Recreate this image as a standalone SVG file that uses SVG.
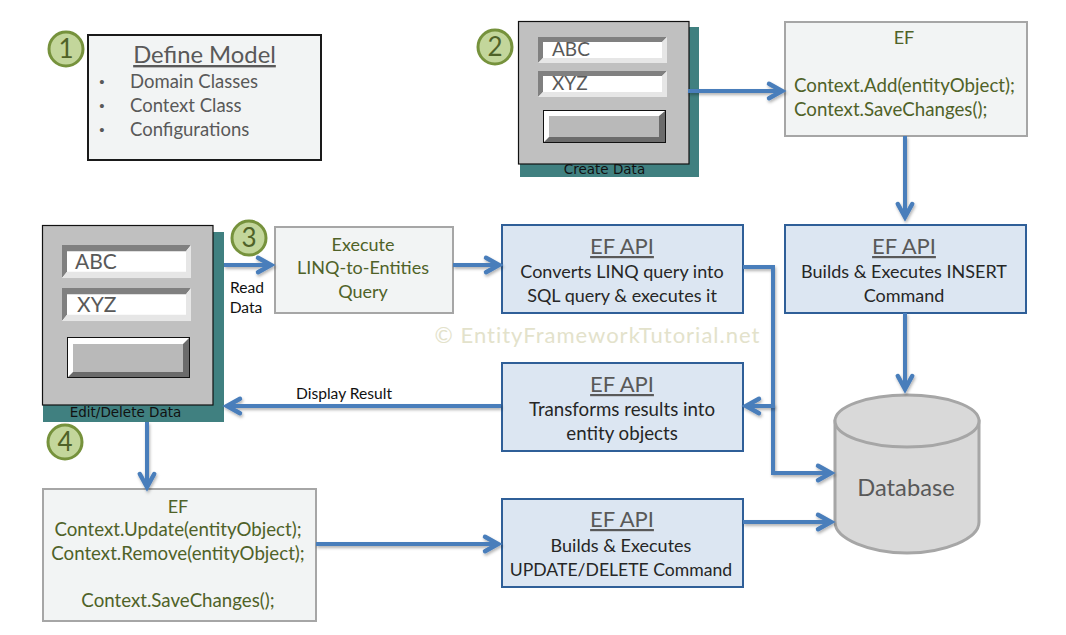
<svg xmlns="http://www.w3.org/2000/svg" width="1066" height="635" viewBox="0 0 1066 635">
<style>
text{font-family:Lato,"Liberation Sans",sans-serif;text-anchor:middle}
.badge circle{fill:#c3d69b;stroke:#76923c;stroke-width:3}
.badge text{font-size:26px;fill:#4f6228}
.gb{fill:#f2f4f4;stroke:#a6a6a6;stroke-width:2}
.bb{fill:#dce6f2;stroke:#2f5f98;stroke-width:2}
.gt{font-size:18px;fill:#4f6228}
.gc{font-size:18.700px;fill:#4f6228}
.h{font-size:22px;fill:#595959;text-decoration:underline}
.bt{font-size:18px;fill:#262626}
.bw{font-size:18.700px;fill:#262626}
.l{font-size:18.500px;fill:#595959;text-anchor:start}
.bu{font-family:"Liberation Sans",sans-serif;font-size:15px;fill:#595959}
.c{fill:none;stroke:#4a7ebb;stroke-width:4;marker-end:url(#a);filter:url(#s)}
.w{font-family:"DejaVu Sans",sans-serif;font-size:13.500px;fill:#111}
.lab{font-size:15.600px;fill:#111}
.teal{fill:#408080}
.win{fill:#c0c0c0;stroke:#111;stroke-width:1.2}
</style>
<defs>
<marker id="a" markerUnits="userSpaceOnUse" markerWidth="24" markerHeight="28" refX="19" refY="14" orient="auto" overflow="visible"><path d="M5 6.800L18 14L5 21.200" fill="none" stroke="#4a7ebb" stroke-width="4.500" stroke-linecap="round" stroke-linejoin="miter"/></marker>
<filter id="s" x="0" y="0" width="1066" height="635" filterUnits="userSpaceOnUse"><feDropShadow dx="1" dy="2" stdDeviation="1.500" flood-color="#000" flood-opacity=".3"/></filter>
<g id="field"><rect width="129" height="26" fill="#fff"/><path d="M0 0H129L124 5H5V21L0 26Z" fill="#808080"/><path d="M129 0V26H0L5 21H124V5Z" fill="#e6e6e6"/></g>
</defs>
<text x="597.500" y="343" style="font-size:22px;fill:#e3e2cb;letter-spacing:1px">© EntityFrameworkTutorial.net</text>

<g id="model">
<rect x="88" y="35" width="233" height="125" fill="#f2f4f4" stroke="#1a1a1a" stroke-width="2"/>
<text x="204.500" y="63" style="font-size:23.800px;fill:#595959;text-decoration:underline">Define Model</text>
<text class="bu" x="102" y="87">•</text><text class="l" x="130" y="88">Domain Classes</text>
<text class="bu" x="102" y="111">•</text><text class="l" x="130" y="112">Context Class</text>
<text class="bu" x="102" y="135">•</text><text class="l" x="130" y="136">Configurations</text>
</g>
<g id="badge1" class="badge"><circle cx="66" cy="49" r="17"/><text x="66" y="58">1</text></g>

<g id="create-window">
<rect class="teal" x="520" y="27" width="179" height="150"/>
<rect class="win" x="518.500" y="21.500" width="170.500" height="142.500"/>
<use href="#field" x="538" y="37"/><use href="#field" x="538" y="71"/>
<text x="552" y="56" style="font-size:19px;fill:#595959;text-anchor:start">ABC</text>
<text x="552" y="90" style="font-size:19px;fill:#595959;text-anchor:start">XYZ</text>
<rect x="543" y="110" width="123" height="33" fill="#111"/><rect x="544" y="111" width="121" height="31" fill="#fff"/><path d="M665 111V142H544L549 137H659V116Z" fill="#6b6b6b"/><rect x="549" y="116" width="110" height="21" fill="#b9b9b9"/>
<text class="w" x="604.500" y="174">Create Data</text>
</g>
<g id="badge2" class="badge"><circle cx="495" cy="47" r="17"/><text x="495" y="56">2</text></g>

<g id="edit-window">
<rect class="teal" x="43" y="232" width="181" height="190"/>
<rect class="win" x="42.500" y="225.500" width="170.500" height="179.500"/>
<use href="#field" transform="translate(62 245) scale(1 1.270)"/><use href="#field" transform="translate(62 288) scale(1 1.270)"/>
<text x="75" y="269" style="font-size:21px;fill:#595959;text-anchor:start">ABC</text>
<text x="77" y="312" style="font-size:21px;fill:#595959;text-anchor:start">XYZ</text>
<rect x="67" y="337" width="123" height="41" fill="#111"/><rect x="68" y="338" width="121" height="39" fill="#fff"/><path d="M189 338V377H68L73 372H183V344Z" fill="#6b6b6b"/><rect x="73" y="344" width="110" height="28" fill="#b9b9b9"/>
<text class="w" x="125.500" y="417">Edit/Delete Data</text>
</g>
<g id="badge3" class="badge"><circle cx="249" cy="238" r="17"/><text x="249" y="247">3</text></g>
<g id="badge4" class="badge"><circle cx="65" cy="442" r="17"/><text x="65" y="451">4</text></g>

<g id="ef-add"><rect class="gb" x="785" y="22" width="242" height="114"/>
<text class="gt" x="904" y="44">EF</text>
<text class="gc" x="794" y="92" style="text-anchor:start">Context.Add(entityObject);</text>
<text class="gc" x="794" y="116" style="text-anchor:start">Context.SaveChanges();</text></g>

<g id="execute"><rect class="gb" x="275" y="227" width="178" height="86"/>
<text class="gt" x="363" y="251">Execute</text><text class="gt" x="363" y="274">LINQ-to-Entities</text><text class="gt" x="363" y="298">Query</text></g>

<g id="api-convert"><rect class="bb" x="502" y="225" width="241" height="88"/>
<text class="h" x="622" y="254">EF API</text><text class="bt" x="622" y="278">Converts LINQ query into</text><text class="bt" x="622" y="302">SQL query &amp; executes it</text></g>

<g id="api-insert"><rect class="bb" x="785" y="225" width="241" height="88"/>
<text class="h" x="904" y="254">EF API</text><text class="bt" x="904" y="278">Builds &amp; Executes INSERT</text><text class="bt" x="904" y="302">Command</text></g>

<g id="api-transform"><rect class="bb" x="502" y="363" width="241" height="88"/>
<text class="h" x="622" y="392">EF API</text><text class="bw" x="622" y="416">Transforms results into</text><text class="bw" x="622" y="440">entity objects</text></g>

<g id="ef-update"><rect class="gb" x="43" y="489" width="273" height="132"/>
<text class="gt" x="178" y="513">EF</text>
<text class="gc" x="178" y="536">Context.Update(entityObject);</text>
<text class="gc" x="178" y="560">Context.Remove(entityObject);</text>
<text class="gc" x="178" y="607">Context.SaveChanges();</text></g>

<g id="api-update"><rect class="bb" x="502" y="499" width="241" height="88"/>
<text class="h" x="622" y="527">EF API</text><text class="bt" x="621" y="552">Builds &amp; Executes</text><text class="bt" x="621" y="576" style="font-size:17.600px">UPDATE/DELETE Command</text></g>

<g id="database">
<path d="M835 421V522C835 539 870 553 907 553S979 539 979 522V421Z" fill="#d9d9d9" stroke="#a6a6a6" stroke-width="3"/>
<ellipse cx="907" cy="421" rx="72" ry="26" fill="#d9d9d9" stroke="#a6a6a6" stroke-width="3"/>
<text x="906" y="496" style="font-size:23.700px;fill:#595959">Database</text></g>

<g id="connectors">
<path class="c" d="M688 91H783"/>
<path class="c" d="M905 136V218"/>
<path class="c" d="M224 265H272"/>
<path class="c" d="M453 265H500"/>
<path class="c" d="M743 267H773V473H832"/>
<path class="c" d="M775 406H745"/>
<path class="c" d="M905 313V390"/>
<path class="c" d="M501 406H226"/>
<path class="c" d="M147 422V488"/>
<path class="c" d="M316 544H499"/>
<path class="c" d="M743 522H832"/>
</g>
<text class="lab" x="247" y="293">Read</text><text class="lab" x="246" y="313">Data</text>
<text class="lab" x="344" y="399">Display Result</text>
</svg>
